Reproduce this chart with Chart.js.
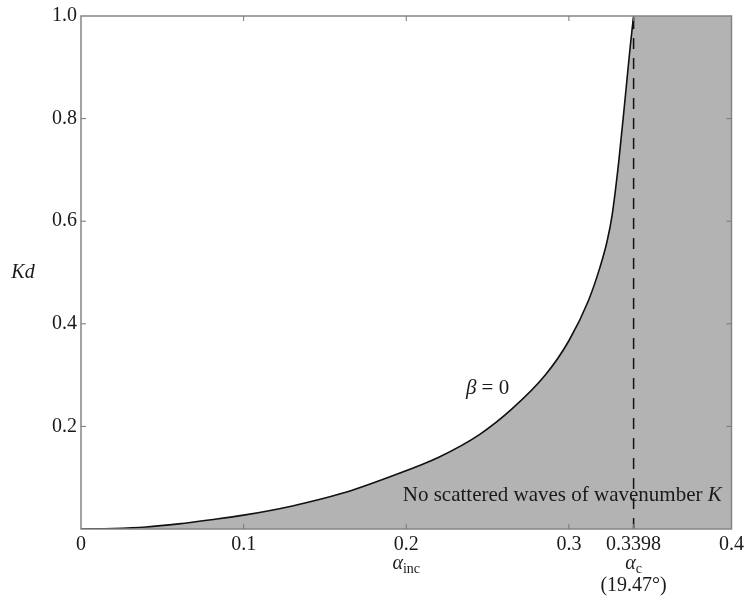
<!DOCTYPE html>
<html>
<head>
<meta charset="utf-8">
<script src="https://cdn.jsdelivr.net/npm/chart.js@4.4.1/dist/chart.umd.min.js"></script>
<style>
  html, body { margin: 0; padding: 0; background: #fff; }
  #wrap { width: 748px; height: 602px; }
</style>
</head>
<body>
<div id="wrap"><canvas id="c" width="748" height="602"></canvas></div>
<script>
// Incidence angle (alpha_inc) and Kd along the beta = 0 curve
const alphaInc = [0, 0.02, 0.04, 0.06, 0.08, 0.10, 0.13, 0.16, 0.19, 0.22, 0.245, 0.265, 0.2855, 0.300, 0.312, 0.319, 0.3235, 0.3266, 0.3307, 0.3348, 0.3378, 0.3398];
const kdValues = [0, 0.001, 0.004, 0.010, 0.018, 0.027, 0.045, 0.069, 0.102, 0.140, 0.184, 0.234, 0.300, 0.367, 0.445, 0.509, 0.561, 0.612, 0.717, 0.846, 0.943, 1.0];
// Critical angle
const alphaCrit = 0.3398;
const xMin = 0, xMax = 0.4;
const yMin = 0, yMax = 1.0;
const xTickValues = [0, 0.1, 0.2, 0.3, 0.3398, 0.4];
const xTickLabels = ['0', '0.1', '0.2', '0.3', '0.3398', '0.4'];
const yTickValues = [0, 0.2, 0.4, 0.6, 0.8, 1.0];
const yTickLabels = ['', '0.2', '0.4', '0.6', '0.8', '1.0'];

const curvePts = alphaInc.map((a, i) => ({ x: a, y: kdValues[i] }));
const shadePts = curvePts.concat([{ x: xMax, y: yMax }]);
const dashPts = [{ x: alphaCrit, y: yMin }, { x: alphaCrit, y: yMax }];

const SERIF = "'Liberation Serif', 'DejaVu Serif', serif";

const decor = {
  id: 'decor',
  afterDraw(chart) {
    const ctx = chart.ctx;
    const a = chart.chartArea;
    const xs = chart.scales.x, ys = chart.scales.y;
    ctx.save();
    // frame
    ctx.strokeStyle = '#858585';
    ctx.lineWidth = 1.5;
    ctx.strokeRect(a.left, a.top, a.right - a.left, a.bottom - a.top);
    // inward tick marks
    ctx.lineWidth = 1;
    ctx.strokeStyle = '#777';
    const tl = 5;
    xTickValues.forEach(v => {
      if (v === xMin || v === xMax) return;
      const px = xs.getPixelForValue(v);
      ctx.beginPath();
      ctx.moveTo(px, a.bottom); ctx.lineTo(px, a.bottom - tl);
      ctx.moveTo(px, a.top); ctx.lineTo(px, a.top + tl);
      ctx.stroke();
    });
    yTickValues.forEach(v => {
      if (v === yMin || v === yMax) return;
      const py = ys.getPixelForValue(v);
      ctx.beginPath();
      ctx.moveTo(a.left, py); ctx.lineTo(a.left + tl, py);
      ctx.moveTo(a.right, py); ctx.lineTo(a.right - tl, py);
      ctx.stroke();
    });

    ctx.fillStyle = '#1a1a1a';
    ctx.textBaseline = 'middle';
    // Kd axis label
    ctx.font = 'italic 20px ' + SERIF;
    ctx.textAlign = 'center';
    ctx.fillText('Kd', a.left - 58, ys.getPixelForValue(0.5));

    // beta = 0 label
    {
      const cx = xs.getPixelForValue(0.25), cy = ys.getPixelForValue(0.274);
      ctx.font = 'italic 21px ' + SERIF;
      const w1 = ctx.measureText('β').width;
      ctx.font = '21px ' + SERIF;
      const w2 = ctx.measureText(' = 0').width;
      const start = cx - (w1 + w2) / 2;
      ctx.textAlign = 'left';
      ctx.font = 'italic 21px ' + SERIF;
      ctx.fillText('β', start, cy);
      ctx.font = '21px ' + SERIF;
      ctx.fillText(' = 0', start + w1, cy);
    }

    // region label
    {
      const rx = xs.getPixelForValue(0.394), cy = ys.getPixelForValue(0.066);
      ctx.font = 'italic 21px ' + SERIF;
      const wk = ctx.measureText('K').width;
      ctx.textAlign = 'right';
      ctx.fillText('K', rx, cy);
      ctx.font = '21px ' + SERIF;
      ctx.fillText('No scattered waves of wavenumber ', rx - wk, cy);
    }

    // alpha labels under axis
    function alphaSub(xv, sub, y) {
      const cx = xs.getPixelForValue(xv);
      ctx.font = 'italic 20px ' + SERIF;
      const wa = ctx.measureText('α').width;
      ctx.font = '14px ' + SERIF;
      const ws = ctx.measureText(sub).width;
      const start = cx - (wa + ws) / 2;
      ctx.textAlign = 'left';
      ctx.font = 'italic 20px ' + SERIF;
      ctx.fillText('α', start, y);
      ctx.font = '14px ' + SERIF;
      ctx.fillText(sub, start + wa, y + 5);
    }
    alphaSub(0.2, 'inc', a.bottom + 35);
    alphaSub(alphaCrit, 'c', a.bottom + 35);
    ctx.font = '20px ' + SERIF;
    ctx.textAlign = 'center';
    ctx.fillText('(19.47°)', xs.getPixelForValue(alphaCrit), a.bottom + 57);
    ctx.restore();
  }
};

new Chart(document.getElementById('c'), {
  type: 'line',
  data: {
    datasets: [
      {
        label: 'beta=0',
        data: curvePts,
        borderColor: '#111',
        borderWidth: 1.6,
        pointRadius: 0,
        fill: false,
        cubicInterpolationMode: 'monotone',
        order: 2
      },
      {
        label: 'critical',
        data: dashPts,
        borderColor: '#111',
        borderWidth: 1.5,
        borderDash: [11, 9],
        pointRadius: 0,
        fill: false,
        order: 1
      },
      {
        label: 'shade',
        data: shadePts,
        borderWidth: 0,
        borderColor: 'rgba(0,0,0,0)',
        backgroundColor: '#b3b3b3',
        pointRadius: 0,
        fill: 'origin',
        cubicInterpolationMode: 'monotone',
        order: 3
      }
    ]
  },
  options: {
    responsive: false,
    animation: false,
    layout: { padding: { top: 14, right: 15, left: 0, bottom: 0 } },
    plugins: { legend: { display: false }, tooltip: { enabled: false } },
    scales: {
      x: {
        type: 'linear',
        min: xMin, max: xMax,
        grid: { display: false, drawTicks: false },
        border: { display: false },
        afterBuildTicks(s) { s.ticks = xTickValues.map(v => ({ value: v })); },
        afterFit(s) { s.height = 73; },
        ticks: {
          autoSkip: false,
          maxRotation: 0,
          padding: 4,
          color: '#1a1a1a',
          font: { family: SERIF, size: 20 },
          callback(v) { const i = xTickValues.indexOf(v); return i >= 0 ? xTickLabels[i] : ''; }
        }
      },
      y: {
        type: 'linear',
        min: yMin, max: yMax,
        grid: { display: false, drawTicks: false },
        border: { display: false },
        afterBuildTicks(s) { s.ticks = yTickValues.map(v => ({ value: v })); },
        afterFit(s) { s.width = 81; },
        ticks: {
          autoSkip: false,
          padding: 4,
          color: '#1a1a1a',
          font: { family: SERIF, size: 20 },
          callback(v) { const i = yTickValues.indexOf(v); return i >= 0 ? yTickLabels[i] : ''; }
        }
      }
    }
  },
  plugins: [decor]
});
</script>
</body>
</html>
